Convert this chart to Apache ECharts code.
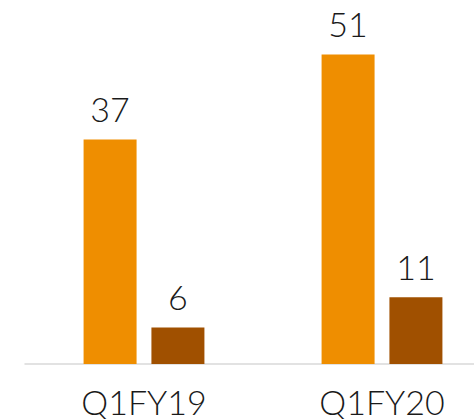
<!DOCTYPE html>
<html>
<head>
<meta charset="utf-8">
<script src="https://cdn.jsdelivr.net/npm/echarts@6/dist/echarts.min.js"></script>
<style>
  html, body { margin: 0; padding: 0; background: #fff; }
  #chart { width: 474px; height: 419px; }
</style>
</head>
<body>
<div id="chart"></div>
<script>
  var categories = ['Q1FY19', 'Q1FY20'];
  var seriesA = [37, 51];
  var seriesB = [6, 11];

  var orange = '#EF8E00';
  var brown = '#A05000';
  var ink = '#1a1a1a';
  var font = 'Lato';

  var chart = echarts.init(document.getElementById('chart'), null, { renderer: 'svg' });

  chart.setOption({
    animation: false,
    grid: { left: 25, top: 0, width: 476, height: 364, outerBoundsMode: 'none', containLabel: false },
    xAxis: {
      type: 'category',
      data: categories,
      axisTick: { show: false },
      axisLine: { lineStyle: { color: '#d9d9d9', width: 1.5 } },
      axisLabel: {
        color: ink,
        fontFamily: font,
        fontWeight: 300,
        fontSize: 34,
        margin: 20
      }
    },
    yAxis: {
      type: 'value',
      min: 0,
      max: 60,
      show: false,
      splitLine: { show: false }
    },
    series: [
      {
        type: 'bar',
        data: seriesA,
        barWidth: 53,
        barGap: '28%',
        itemStyle: { color: orange },
        label: {
          show: true,
          position: 'top',
          distance: 14,
          color: ink,
          fontFamily: font,
          fontWeight: 300,
          fontSize: 34
        }
      },
      {
        type: 'bar',
        data: seriesB,
        barWidth: 53,
        itemStyle: { color: brown },
        label: {
          show: true,
          position: 'top',
          distance: 14,
          color: ink,
          fontFamily: font,
          fontWeight: 300,
          fontSize: 34
        }
      }
    ]
  });
</script>
</body>
</html>
